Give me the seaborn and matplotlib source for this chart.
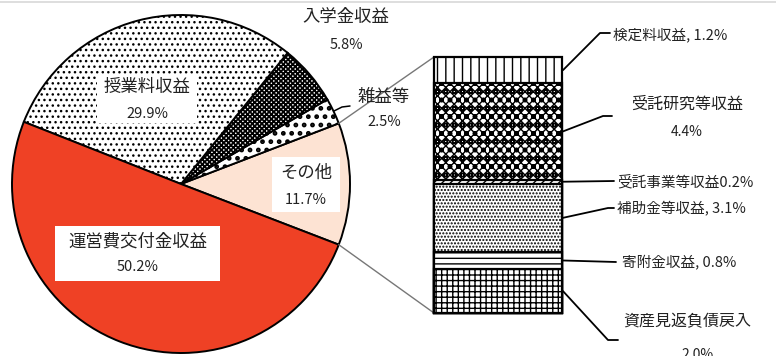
import matplotlib
matplotlib.use("Agg")
import matplotlib.pyplot as plt
import seaborn as sns
import numpy as np
import pandas as pd
from matplotlib.patches import Rectangle

# Revenue breakdown (%): main pie and the "その他" breakdown column
pie_labels = ["その他", "雑益等", "入学金収益", "授業料収益", "運営費交付金収益"]
pie_values = [11.7, 2.5, 5.8, 29.9, 50.2]

bar_labels = ["資産見返負債戻入", "寄附金収益", "補助金等収益",
              "受託事業等収益", "受託研究等収益", "検定料収益"]
bar_values = [2.0, 0.8, 3.1, 0.2, 4.4, 1.2]

sns.set_theme(style="white")
plt.rcParams["font.family"] = ["Noto Sans CJK JP", "DejaVu Sans"]
plt.rcParams["hatch.linewidth"] = 1.0

pie_colors = ["#fde3d3", "white", "white", "white", "#ef4125"]
pie_hatches = [None, "..", "xxxxxxx", "...", None]
pie_hatch_lw = [1.0, 2.2, 1.3, 1.0, 1.0]
bar_hatches = ["+++", "---", ".....", "////", "xxxxoo", "||"]

TXT = "#222222"
W, H = 776, 356


def py(y):
    """image row -> data y"""
    return H - y


fig = plt.figure(figsize=(W / 100, H / 100), dpi=100)
ax = fig.add_axes([0, 0, 1, 1])

# ---- pie ----
cx, cy, r = 181, py(184), 169
start = -pie_values[0] / sum(pie_values) * 360 / 2
wedges, _ = ax.pie(pie_values, colors=pie_colors, startangle=start,
                   counterclock=True, center=(cx, cy), radius=r,
                   wedgeprops=dict(edgecolor="black", linewidth=1.4),
                   frame=True)
for w, h, hl in zip(wedges, pie_hatches, pie_hatch_lw):
    if h:
        w.set_hatch(h)
        if hasattr(w, "set_hatch_linewidth"):
            w.set_hatch_linewidth(hl)
ax.set_xlim(0, W)
ax.set_ylim(0, H)
ax.set_axis_off()

# thin border line at the top
ax.plot([0, W], [py(2), py(2)], color="#d8d8d8", lw=1.2)


def fmt(v):
    return f"{v:.1f}%"


# boxed labels inside the pie: (label index, box x0, y0, x1, y1, centre x, row1 y, row2 y)
boxed = [
    (3, 97, 74, 197, 123, 147, 87, 114),
    (4, 55, 226, 220, 281, 138, 241, 267),
    (0, 272, 157, 340, 212, 306, 173, 200),
]
for idx, x0, y0, x1, y1, tx, t1, t2 in boxed:
    ax.add_patch(Rectangle((x0, py(y1)), x1 - x0, y1 - y0, facecolor="white",
                           edgecolor="none", zorder=3))
    ax.text(tx, py(t1), pie_labels[idx], ha="center", va="center",
            fontsize=12.5, color=TXT, zorder=4)
    ax.text(tx, py(t2), fmt(pie_values[idx]), ha="center", va="center",
            fontsize=10.5, color=TXT, zorder=4)

# outside labels
outside = [(2, 346, 17, 45), (1, 384, 97, 122)]
for idx, tx, t1, t2 in outside:
    ax.text(tx, py(t1), pie_labels[idx], ha="center", va="center",
            fontsize=12.5, color=TXT)
    ax.text(tx, py(t2), fmt(pie_values[idx]), ha="center", va="center",
            fontsize=10.5, color=TXT)
ax.plot([334, 342, 350], [py(111), py(107), py(106)], color="black", lw=1.1)

# ---- breakdown column ----
bx0, bx1, by0, by1 = 434, 562, 57, 313
ax2 = fig.add_axes([bx0 / W, 1 - by1 / H, (bx1 - bx0) / W, (by1 - by0) / H])
cum = np.cumsum(bar_values)
total = cum[-1]
for i in reversed(range(len(bar_values))):
    layer = pd.DataFrame({"k": ["x"], "v": [cum[i]]})
    sns.barplot(data=layer, x="k", y="v", color="white", saturation=1,
                width=1, edgecolor="black", linewidth=1.6,
                hatch=bar_hatches[i], ax=ax2)
ax2.set_xlim(-0.5, 0.5)
ax2.set_ylim(0, total)
ax2.set_axis_off()
for p in ax2.patches:
    p.set_clip_on(False)

# grey connectors from the "その他" wedge to the column
t_lo = np.deg2rad(wedges[0].theta1)
t_hi = np.deg2rad(wedges[0].theta2)
ax.plot([cx + r * np.cos(t_hi), bx0], [cy + r * np.sin(t_hi), py(by0)],
        color="#777777", lw=1.0)
ax.plot([cx + r * np.cos(t_lo), bx0], [cy + r * np.sin(t_lo), py(by1)],
        color="#777777", lw=1.0)

# column labels with leaders: (elbow x, elbow y, end x, text x, text y, align, two-line)
lead = [
    (608, 340, 618, 623, 322, "left", True),     # 資産見返負債戻入
    (616, 262, 616, 622, 262, "left", False),    # 寄附金収益
    (608, 208, 614, 617, 209, "left", False),    # 補助金等収益
    (614, 181, 614, 617, 182, "left", False),    # 受託事業等収益
    (603, 116, 612, 687, 104, "center", True),   # 受託研究等収益
    (600, 33, 610, 613, 35, "left", False),      # 検定料収益
]
for i, (ex, ey, endx, tx, ty, al, two) in enumerate(lead):
    ymid = by0 + (total - (cum[i] - bar_values[i] / 2)) / total * (by1 - by0)
    ax.plot([bx1 + 1, ex, endx], [py(ymid), py(ey), py(ey)], color="black", lw=1.3)
    if two:
        ax.text(tx, py(ty), bar_labels[i], ha=al, va="center", fontsize=11.5,
                color=TXT)
        px2 = tx + 75 if al == "left" else tx
        dy = 33 if al == "left" else 28
        ax.text(px2, py(ty + dy), fmt(bar_values[i]), ha="center", va="center",
                fontsize=10, color=TXT)
    else:
        sep = "" if bar_values[i] < 0.5 else ", "
        ax.text(tx, py(ty), f"{bar_labels[i]}{sep}{fmt(bar_values[i])}",
                ha=al, va="center", fontsize=10.5, color=TXT)

fig.savefig("out.png", dpi=100)
